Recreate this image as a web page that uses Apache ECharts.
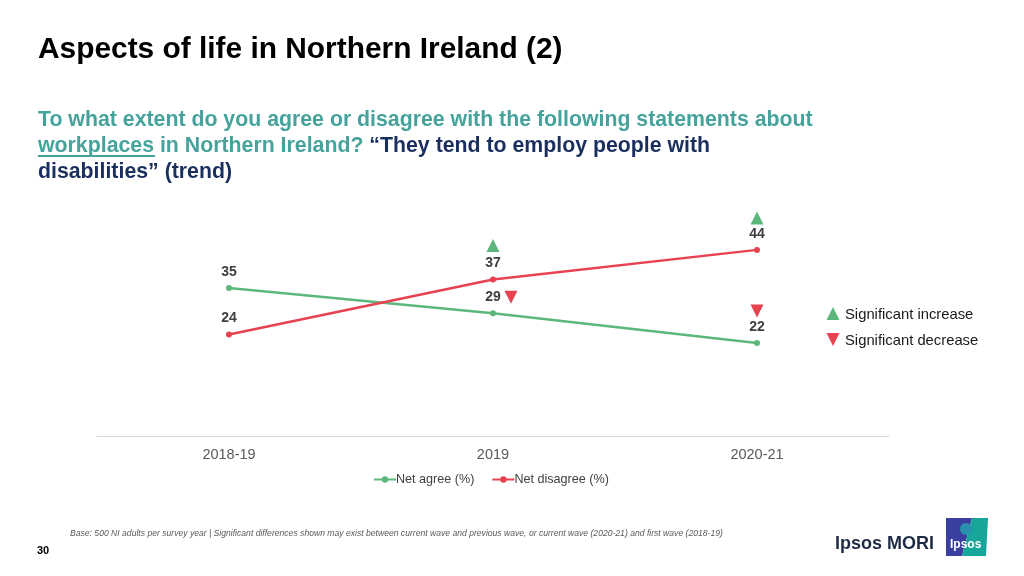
<!DOCTYPE html>
<html>
<head>
<meta charset="utf-8">
<script src="https://cdn.jsdelivr.net/npm/echarts@6/dist/echarts.min.js"></script>
<style>
html,body{margin:0;padding:0;background:#fff;}
#chart{width:1024px;height:576px;}
</style>
</head>
<body>
<div id="chart"></div>
<script>
const categories = ['2018-19', '2019', '2020-21'];
const netAgree = [35, 29, 22];
const netDisagree = [24, 37, 44];
// significance markers per point: 'up' = significant increase, 'down' = significant decrease
const agreeSig = [null, 'down', 'down'];
const disagreeSig = [null, 'up', 'up'];
const seriesNames = ['Net agree (%)', 'Net disagree (%)'];

const GREEN = '#5cb77c';
const RED = '#e8414f';
const SANS = "'Liberation Sans',Arial,Helvetica,sans-serif";

function sigMarks(values, sig, offsets) {
  const out = [];
  sig.forEach((s, i) => {
    if (!s) return;
    out.push({
      coord: [i, values[i]],
      symbol: 'triangle',
      symbolSize: [13, 13],
      symbolRotate: s === 'down' ? 180 : 0,
      symbolOffset: offsets[i],
      itemStyle: { color: s === 'up' ? GREEN : RED },
      label: { show: false }
    });
  });
  return out;
}

const chart = echarts.init(document.getElementById('chart'), null, { renderer: 'canvas' });
chart.setOption({
  backgroundColor: '#ffffff',
  animation: false,
  grid: { left: 97, width: 792, top: 224.5, height: 211.5, containLabel: false },
  xAxis: {
    type: 'category',
    data: categories,
    boundaryGap: true,
    axisLine: { show: true, lineStyle: { color: '#d9d9d9', width: 1 } },
    axisTick: { show: false },
    axisLabel: { color: '#595959', fontSize: 14.5, fontFamily: SANS, margin: 11 }
  },
  yAxis: {
    type: 'value', min: 0, max: 50, interval: 10,
    show: false, splitLine: { show: false }
  },
  legend: {
    left: 368, top: 468,
    itemWidth: 22, itemHeight: 8, itemGap: 17,
    textStyle: { color: '#404040', fontSize: 12.6, fontFamily: SANS, padding: [0, 0, 0, -5] },
    data: seriesNames
  },
  series: [
    {
      name: seriesNames[0], type: 'line', data: netAgree,
      symbol: 'circle', symbolSize: 6,
      lineStyle: { color: GREEN, width: 2.5 },
      itemStyle: { color: GREEN },
      label: { show: true, position: 'top', distance: 6, color: '#404040', fontSize: 14, fontWeight: 'bold', fontFamily: SANS },
      markPoint: { data: sigMarks(netAgree, agreeSig, [null, [18, -16], [0, -32]]) }
    },
    {
      name: seriesNames[1], type: 'line', data: netDisagree,
      symbol: 'circle', symbolSize: 6,
      lineStyle: { color: RED, width: 2.5 },
      itemStyle: { color: RED },
      label: { show: true, position: 'top', distance: 6, color: '#404040', fontSize: 14, fontWeight: 'bold', fontFamily: SANS },
      markPoint: { data: sigMarks(netDisagree, disagreeSig, [null, [0, -34], [0, -32]]) }
    }
  ],
  graphic: [
    { type: 'text', x: 38, y: 35, scaleX: 1.03, style: { text: 'Aspects of life in Northern Ireland (2)', font: "bold 29px " + SANS, fill: '#000000' } },
    { type: 'text', left: 38, top: 107, style: {
        text: '{t|To what extent do you agree or disagree with the following statements about}\n{t|workplaces in Northern Ireland?} {q|\u201cThey tend to employ people with}\n{q|disabilities\u201d (trend)}',
        font: "bold 21.3px " + SANS, lineHeight: 26,
        rich: {
          t: { fill: '#45a39b', font: "bold 21.3px " + SANS, lineHeight: 26 },
          q: { fill: '#1b2f5e', font: "bold 21.3px " + SANS, lineHeight: 26 }
        }
    } },
    { type: 'line', shape: { x1: 38, y1: 156, x2: 155, y2: 156 }, style: { stroke: '#45a39b', lineWidth: 2 } },
    // significance key
    { type: 'polygon', shape: { points: [[833, 307], [839.5, 320], [826.5, 320]] }, style: { fill: GREEN } },
    { type: 'text', left: 845, top: 307, style: { text: 'Significant increase', font: "14.8px " + SANS, fill: '#1a1a1a' } },
    { type: 'polygon', shape: { points: [[826.5, 333], [839.5, 333], [833, 346]] }, style: { fill: RED } },
    { type: 'text', left: 845, top: 333, style: { text: 'Significant decrease', font: "14.8px " + SANS, fill: '#1a1a1a' } },
    // footer
    { type: 'text', left: 70, top: 529, style: { text: 'Base: 500 NI adults per survey year | Significant differences shown may exist between current wave and previous wave, or current wave (2020-21) and first wave (2018-19)', font: "italic 8.6px " + SANS, fill: '#595959' } },
    { type: 'text', left: 37, top: 545, style: { text: '30', font: "bold 11px " + SANS, fill: '#000000' } },
    { type: 'text', left: 835, top: 535, style: { text: 'Ipsos MORI', font: "bold 18px " + SANS, fill: '#1e2b45' } },
    { type: 'polygon', shape: { points: [[946, 518], [972, 518], [962, 556], [946, 556]] }, style: { fill: '#3b40a0' } },
    { type: 'polygon', shape: { points: [[972, 518], [988, 518], [986, 556], [962, 556]] }, style: { fill: '#16a69a' } },
    { type: 'circle', shape: { cx: 966, cy: 529, r: 6 }, style: { fill: '#2b8fb0' } },
    { type: 'text', left: 950, top: 539, style: { text: 'Ipsos', font: "bold 12px " + SANS, fill: '#ffffff' } }
  ]
});
</script>
</body>
</html>
